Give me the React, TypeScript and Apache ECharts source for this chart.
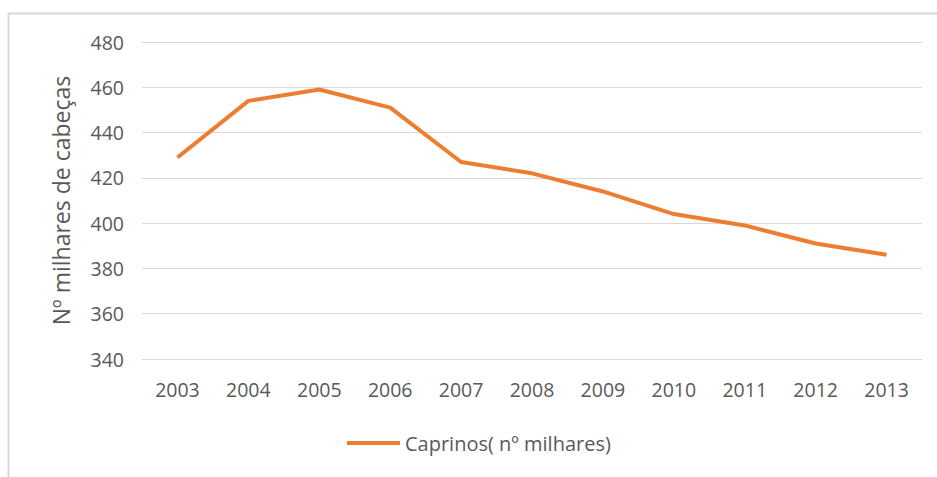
import React, { useEffect, useRef } from "react";
import * as echarts from "echarts";

const years = ["2003", "2004", "2005", "2006", "2007", "2008", "2009", "2010", "2011", "2012", "2013"];
const caprinos = [429, 454, 459, 451, 427, 422, 414, 404, 399, 391, 386];
const seriesName = "Caprinos( nº milhares)";
const yAxisTitle = "Nº milhares de cabeças";

export default function App() {
  const ref = useRef<HTMLDivElement>(null);
  useEffect(() => {
    if (!ref.current) return;
    const chart = echarts.init(ref.current, undefined, { renderer: "svg" });
    const font = "'Open Sans', 'Noto Sans', sans-serif";
    chart.setOption({
      animation: false,
      backgroundColor: "#ffffff",
      graphic: [
        {
          type: "rect",
          shape: { x: 8.5, y: 13.5, width: 1000, height: 600 },
          style: { fill: "none", stroke: "#d9d9d9", lineWidth: 2 },
          silent: true,
        },
      ],
      grid: { left: 142, right: 15, top: 42, bottom: 118 },
      legend: {
        top: 428,
        left: 342,
        icon: "rect",
        itemWidth: 53,
        itemHeight: 4,
        textStyle: { color: "#595959", fontSize: 20, fontFamily: font },
        data: [seriesName],
      },
      xAxis: {
        type: "category",
        data: years,
        boundaryGap: true,
        axisLine: { show: true, lineStyle: { color: "#d9d9d9", width: 1 } },
        axisTick: { show: false },
        axisLabel: { color: "#595959", fontSize: 19.5, fontFamily: font, margin: 20 },
      },
      yAxis: {
        type: "value",
        min: 340,
        max: 480,
        interval: 20,
        name: yAxisTitle,
        nameLocation: "middle",
        nameGap: 70,
        nameTextStyle: { color: "#595959", fontSize: 23, fontFamily: font },
        axisLine: { show: false },
        axisTick: { show: false },
        axisLabel: { color: "#595959", fontSize: 19.5, fontFamily: font, margin: 18 },
        splitLine: { lineStyle: { color: "#d9d9d9", width: 1 } },
      },
      series: [
        {
          name: seriesName,
          type: "line",
          data: caprinos,
          symbol: "none",
          lineStyle: { color: "#ED7D31", width: 4 },
          itemStyle: { color: "#ED7D31" },
        },
      ],
    });
    return () => chart.dispose();
  }, []);
  return (
    <div
      ref={ref}
      style={{ position: "fixed", left: 0, top: 0, width: 937, height: 477, background: "#fff" }}
    />
  );
}
